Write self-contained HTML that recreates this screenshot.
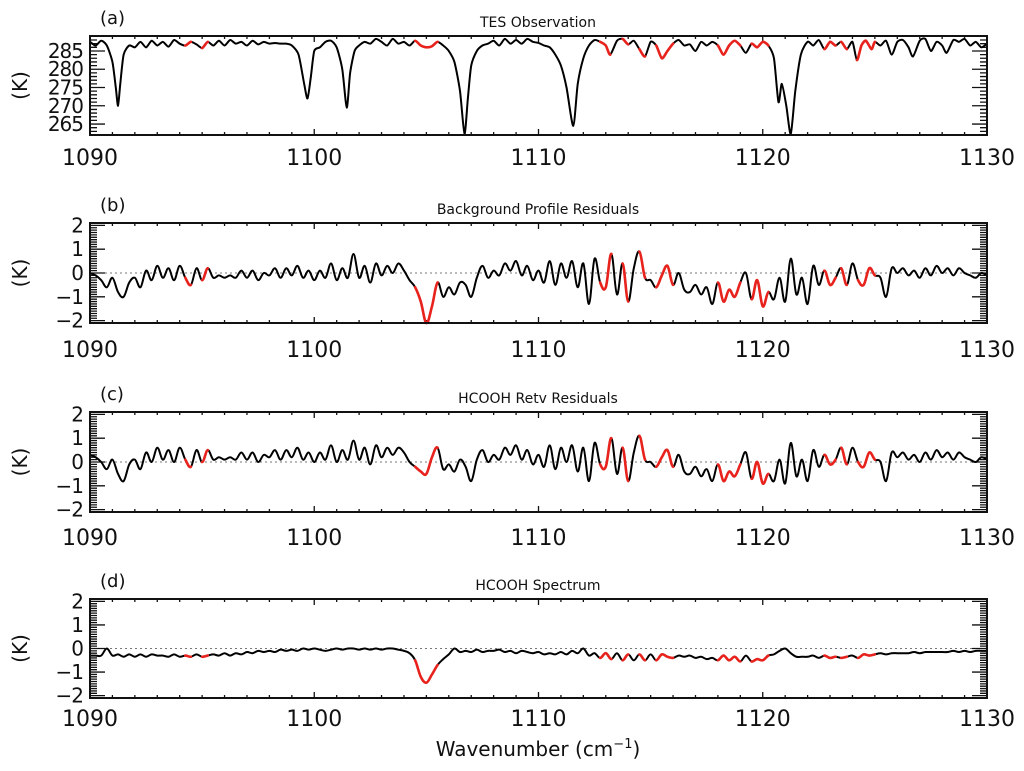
<!DOCTYPE html>
<html>
<head>
<meta charset="utf-8">
<style>
  html,body{margin:0;padding:0;background:#fff;}
  svg{display:block;font-family:"DejaVu Sans","Liberation Sans",sans-serif;}
</style>
</head>
<body>
<svg id="chart" width="1024" height="771" viewBox="0 0 1024 771" xmlns="http://www.w3.org/2000/svg"></svg>
<script>
// ---------------- data ----------------
const xTicks = [1090, 1100, 1110, 1120, 1130];
const tesWn = [1090,1090.25,1090.5,1090.75,1091,1091.15,1091.25,1091.35,1091.5,1091.75,1092,1092.25,1092.5,1092.75,1093,1093.25,1093.5,1093.75,1094,1094.25,1094.5,1094.75,1095,1095.25,1095.5,1095.75,1096,1096.25,1096.5,1096.75,1097,1097.25,1097.5,1097.75,1098,1098.25,1098.5,1098.75,1099,1099.3,1099.55,1099.7,1099.85,1100,1100.25,1100.5,1100.75,1101,1101.25,1101.45,1101.6,1101.8,1102,1102.25,1102.5,1102.75,1103,1103.25,1103.5,1103.75,1104,1104.25,1104.5,1104.75,1105,1105.25,1105.5,1105.75,1106,1106.25,1106.5,1106.7,1106.85,1107,1107.25,1107.5,1107.75,1108,1108.25,1108.5,1108.75,1109,1109.25,1109.5,1109.75,1110,1110.25,1110.5,1110.75,1111,1111.25,1111.55,1111.75,1112,1112.25,1112.5,1112.75,1113,1113.2,1113.5,1113.75,1114,1114.25,1114.5,1114.75,1115,1115.25,1115.5,1115.75,1116,1116.25,1116.5,1116.75,1117,1117.25,1117.5,1117.75,1118,1118.25,1118.5,1118.75,1119,1119.25,1119.5,1119.75,1120,1120.25,1120.5,1120.7,1120.85,1121.05,1121.25,1121.45,1121.7,1122,1122.25,1122.5,1122.75,1123,1123.25,1123.5,1123.75,1124,1124.2,1124.4,1124.6,1124.85,1125,1125.25,1125.5,1125.75,1126,1126.25,1126.5,1126.7,1127,1127.25,1127.5,1127.75,1128,1128.2,1128.5,1128.75,1129,1129.25,1129.5,1129.75,1130];
const tesK = [287.5,286.5,287.8,286.5,282,275,270,276,284,286.5,286,287.5,286,287.8,286.5,287.5,286.2,288,287,286.5,287.5,286.8,285.8,287.5,286.5,287.8,286.5,288,287,287.5,286.5,287.8,286.8,287.5,287,287.2,287,287,286.5,284,276,272,278,285,286,287.5,287.8,286,280,269.5,279,285,286.5,287.5,287,288.3,287.5,286.5,288.3,287,287.5,286.5,287.8,286.5,286,286.3,287.5,286.5,285,282,274,262.3,272,281,285,286.5,287,287.8,286.5,288.3,287,288,287,288.3,287.5,287.2,286.5,286,284,281,275,264.5,276,283,286.5,288,287.5,286.5,284,287.8,288.3,286.8,287.8,285.5,283.5,287.5,286.5,283,285,287,288,286.5,286.8,285,287.5,286.5,287.5,286.5,284,286.5,287.8,286.5,284.5,287,286,287.5,286.5,283,271,276,270,262.3,274,284,287.5,286.5,288,285.5,287.5,286.5,287.5,285.5,287.5,282.5,286.5,287.8,285.5,287.5,286.5,287.8,284,287.5,288,286,283.5,287.8,288.3,285,287.5,286.5,284.5,288,287.5,288.3,286.5,287.5,286,287];
const gridStart = 1090, gridStep = 0.25;
const bgResid = [0.0,-0.1,-0.3,-0.6,-0.2,-0.8,-1.0,-0.4,-0.2,-0.6,0.1,-0.3,0.3,-0.2,0.2,-0.3,0.3,-0.2,-0.5,0.2,-0.3,0.2,-0.2,-0.1,-0.2,-0.1,-0.2,0.1,-0.2,0.1,-0.3,0.0,-0.1,0.2,-0.2,0.2,-0.1,0.3,-0.2,0.1,-0.3,0.1,-0.2,0.4,-0.3,0.2,-0.2,0.8,-0.2,0.3,-0.4,0.4,-0.1,0.3,0.0,0.4,0.1,-0.3,-0.6,-1.2,-2.1,-1.4,-0.4,-1.0,-0.6,-0.9,-0.4,-0.5,-1.0,-0.2,0.3,-0.2,0.1,-0.1,0.4,0.1,0.5,-0.1,0.3,-0.3,0.1,-0.4,0.5,-0.5,0.4,-0.2,0.5,-0.6,0.4,-1.3,0.6,-0.4,-0.6,0.8,-0.9,0.4,-1.2,0.2,0.9,-0.2,-0.3,-0.6,-0.1,0.3,-0.5,0.0,-0.7,-0.8,-0.5,-0.9,-0.6,-1.3,-0.4,-1.2,-0.7,-1.0,-0.4,0.0,-1.1,-0.3,-1.4,-0.8,-1.1,-0.2,-1.2,0.6,-0.9,-0.2,-1.3,0.3,-0.5,0.1,-0.5,-0.2,0.2,-0.5,0.4,-0.3,-0.5,0.2,-0.1,-0.2,-1.0,0.2,0.0,0.2,-0.1,0.1,-0.2,0.2,-0.1,0.3,0.0,0.2,-0.1,0.2,0.0,-0.1,-0.2,0.0,-0.1];
const hcoohResid = [0.3,0.2,0.0,-0.3,0.1,-0.5,-0.8,-0.1,0.1,-0.3,0.4,0.0,0.6,0.1,0.5,0.0,0.6,0.1,-0.2,0.5,0.0,0.5,0.1,0.2,0.1,0.2,0.1,0.4,0.1,0.4,0.0,0.3,0.2,0.5,0.1,0.5,0.2,0.6,0.1,0.4,0.0,0.4,0.1,0.7,0.0,0.5,0.1,0.9,0.1,0.6,-0.1,0.7,0.2,0.6,0.3,0.6,0.4,0.0,-0.2,-0.4,-0.5,0.2,0.6,-0.3,-0.1,-0.4,0.1,-0.2,-0.8,0.1,0.5,0.0,0.3,0.1,0.6,0.3,0.7,0.1,0.5,-0.1,0.3,-0.2,0.7,-0.3,0.6,0.0,0.7,-0.4,0.6,-0.8,0.8,-0.1,-0.2,1.0,-0.5,0.6,-0.8,0.4,1.1,0.1,0.0,-0.2,0.2,0.5,-0.2,0.3,-0.4,-0.5,-0.2,-0.6,-0.3,-0.8,-0.1,-0.8,-0.4,-0.6,-0.1,0.4,-0.7,0.0,-0.9,-0.5,-0.8,0.1,-0.9,0.8,-0.6,0.1,-0.8,0.5,-0.2,0.3,-0.1,0.1,0.6,-0.1,0.6,0.0,-0.2,0.4,0.1,0.0,-0.8,0.4,0.2,0.4,0.1,0.3,0.0,0.4,0.1,0.5,0.2,0.4,0.1,0.4,0.2,0.1,0.0,0.2,0.1];
const hcoohSpec = [-0.3,-0.3,-0.3,0.0,-0.3,-0.25,-0.35,-0.25,-0.35,-0.25,-0.35,-0.25,-0.3,-0.3,-0.35,-0.25,-0.35,-0.3,-0.35,-0.25,-0.35,-0.3,-0.25,-0.3,-0.2,-0.3,-0.2,-0.25,-0.15,-0.2,-0.1,-0.15,-0.1,-0.15,-0.05,-0.1,-0.05,-0.1,0.0,-0.05,0.0,-0.05,-0.1,-0.05,0.0,-0.05,0.0,0.0,-0.05,0.0,-0.05,0.0,-0.05,0.0,0.0,-0.05,-0.1,-0.2,-0.5,-1.2,-1.45,-1.1,-0.7,-0.45,-0.25,0.0,-0.15,-0.1,-0.15,-0.05,-0.15,-0.1,-0.1,-0.05,-0.15,-0.1,-0.2,-0.1,-0.15,-0.2,-0.15,-0.25,-0.2,-0.25,-0.15,-0.25,-0.1,-0.2,0.0,-0.3,-0.2,-0.4,-0.2,-0.45,-0.2,-0.5,-0.25,-0.5,-0.25,-0.5,-0.25,-0.5,-0.25,-0.35,-0.4,-0.3,-0.35,-0.3,-0.4,-0.35,-0.45,-0.4,-0.5,-0.3,-0.5,-0.35,-0.55,-0.3,-0.55,-0.45,-0.5,-0.3,-0.25,-0.1,0.0,-0.2,-0.35,-0.35,-0.35,-0.3,-0.4,-0.3,-0.4,-0.35,-0.4,-0.35,-0.3,-0.4,-0.25,-0.3,-0.25,-0.2,-0.25,-0.2,-0.2,-0.2,-0.2,-0.15,-0.2,-0.15,-0.15,-0.15,-0.15,-0.15,-0.1,-0.15,-0.1,-0.15,-0.1,-0.1,-0.1];
const redStart = [1094.15,1094.9,1104.5,1112.8,1113.8,1114.4,1115.15,1118.0,1119.4,1122.8,1123.5,1124.2];
const redEnd   = [1094.6,1095.2,1105.6,1113.2,1114.1,1114.75,1116.1,1118.9,1120.3,1123.2,1123.85,1125.0];
const tesTicks = [265,270,275,280,285];
const residTicks = [-2,-1,0,1,2];

// ---------------- layout ----------------
const NS = "http://www.w3.org/2000/svg";
const svg = document.getElementById('chart');
const X0 = 90, X1 = 987, WMIN = 1090, WMAX = 1130;
function xs(w){ return X0 + (w - WMIN) / (WMAX - WMIN) * (X1 - X0); }
function mk(tag, attrs, parent){
  const e = document.createElementNS(NS, tag);
  for (const k in attrs) e.setAttribute(k, attrs[k]);
  (parent || svg).appendChild(e);
  return e;
}
function gridX(n){ const a=[]; for(let i=0;i<n;i++) a.push(gridStart + i*gridStep); return a; }
function isRed(w){ for(let i=0;i<redStart.length;i++){ if(w>=redStart[i]-1e-9 && w<=redEnd[i]+1e-9) return true; } return false; }

const panels = [
  {key:'a', title:'TES Observation', top:36, bot:135, ymin:262, ymax:289.1, ticks:tesTicks, minor:1, wn:tesWn, vals:tesK, zero:false, labY:165, smooth:0.12},
  {key:'b', title:'Background Profile Residuals', top:223, bot:323, ymin:-2.1, ymax:2.1, ticks:residTicks, minor:0.1, wn:gridX(bgResid.length), vals:bgResid, zero:true, labY:357, smooth:0.18},
  {key:'c', title:'HCOOH Retv Residuals', top:412, bot:512, ymin:-2.1, ymax:2.1, ticks:residTicks, minor:0.1, wn:gridX(hcoohResid.length), vals:hcoohResid, zero:true, labY:545, smooth:0.18},
  {key:'d', title:'HCOOH Spectrum', top:599, bot:698, ymin:-2.1, ymax:2.1, ticks:residTicks, minor:0.1, wn:gridX(hcoohSpec.length), vals:hcoohSpec, zero:true, labY:726, smooth:0.18}
];

panels.forEach(p => {
  const g = mk('g', {});
  
  
  const ys = v => p.bot - (v - p.ymin) / (p.ymax - p.ymin) * (p.bot - p.top);

  const lab = mk('text', {x:100, y:p.top-12, 'font-size':18, fill:'#111'}, g);
  lab.textContent = '(' + p.key + ')';
  
  
  const tt = mk('text', {x:538, y:p.top-9, 'font-size':14, fill:'#111', 'text-anchor':'middle'}, g);
  tt.textContent = p.title;
  
  
  const yt = mk('text', {x:0, y:0, 'font-size':20, fill:'#111', 'text-anchor':'middle', transform:'translate(27,' + ((p.top+p.bot)/2) + ') rotate(-90)'}, g);
  yt.textContent = '(K)';
  
  

  if (p.zero){
    const z = mk('line', {x1:X0, x2:X1, y1:ys(0), y2:ys(0), stroke:'#777', 'stroke-width':1, 'stroke-dasharray':'2,3'}, g);
    
    
  }

  let tk = '';
  for (let v = Math.ceil(p.ymin/p.minor)*p.minor; v <= p.ymax + 1e-9; v += p.minor){
    const y = ys(v).toFixed(2);
    tk += `M${X0},${y}h7M${X1},${y}h-7`;
  }
  p.ticks.forEach(v => {
    const y = ys(v).toFixed(2);
    tk += `M${X0},${y}h15M${X1},${y}h-15`;
    const t = mk('text', {x:X0-7, y:ys(v)+7, 'font-size':20, fill:'#111', 'text-anchor':'end', 'letter-spacing':'-1'}, g);
    t.textContent = v < 0 ? '\u2212' + Math.abs(v) : String(v);
    
    
  });
  for (let w = WMIN; w <= WMAX; w += 1){
    const x = xs(w).toFixed(2);
    const L = (w % 10 === 0) ? 6 : 3;
    tk += `M${x},${p.bot}v-${L}M${x},${p.top}v${L}`;
  }
  const ticks = mk('path', {d:tk, stroke:'#111', 'stroke-width':1.3, fill:'none'}, g);
  
  
  xTicks.forEach(w => {
    const t = mk('text', {x:xs(w), y:p.labY, 'font-size':22, fill:'#111', 'text-anchor':'middle'}, g);
    t.textContent = String(w);
    
    
  });

  // smoothed series
  const P = p.wn.map((w,i) => [xs(w), ys(p.vals[i])]);
  const n = P.length, k = p.smooth;
  function seg(i){
    const p0 = P[Math.max(i-1,0)], p1 = P[i], p2 = P[i+1], p3 = P[Math.min(i+2,n-1)];
    const c1x = p1[0] + (p2[0]-p0[0])*k, c1y = p1[1] + (p2[1]-p0[1])*k;
    const c2x = p2[0] - (p3[0]-p1[0])*k, c2y = p2[1] - (p3[1]-p1[1])*k;
    return 'C' + c1x.toFixed(2) + ',' + c1y.toFixed(2) + ' ' + c2x.toFixed(2) + ',' + c2y.toFixed(2) + ' ' + p2[0].toFixed(2) + ',' + p2[1].toFixed(2);
  }
  let d = 'M' + P[0][0].toFixed(2) + ',' + P[0][1].toFixed(2);
  for (let i = 0; i < n-1; i++) d += seg(i);
  const line = mk('path', {d:d, stroke:'#000', 'stroke-width':2.0, fill:'none', 'stroke-linejoin':'round'}, g);
  
  
  let rd = '';
  for (let i = 0; i < n - 1; i++){
    const wm = (p.wn[i] + p.wn[i+1]) / 2;
    if (isRed(wm)) rd += 'M' + P[i][0].toFixed(2) + ',' + P[i][1].toFixed(2) + seg(i);
  }
  const red = mk('path', {d:rd, stroke:'#e8221c', 'stroke-width':2.6, fill:'none', 'stroke-linecap':'round'}, g);
  
  

  const fr = mk('rect', {x:X0, y:p.top, width:X1-X0, height:p.bot-p.top, fill:'none', stroke:'#111', 'stroke-width':2}, g);
  
  
});

const xt = mk('text', {x:538, y:756, 'font-size':20, fill:'#111', 'text-anchor':'middle'});
xt.textContent = 'Wavenumber (cm';
const sup = mk('tspan', {'font-size':13, dy:-8}, xt);
sup.textContent = '\u22121';
const cl = mk('tspan', {dy:8}, xt);
cl.textContent = ')';


</script>
</body>
</html>
